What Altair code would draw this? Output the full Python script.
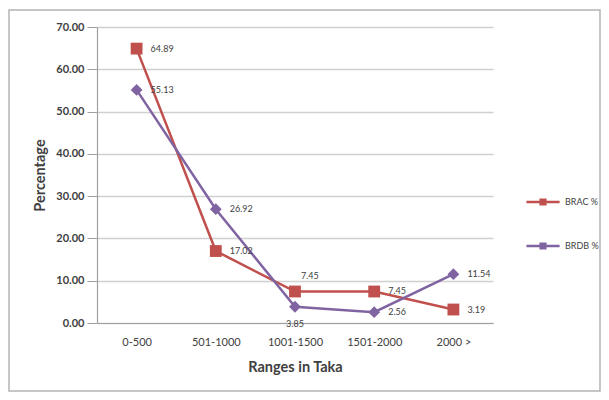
import altair as alt
import pandas as pd

categories = ["0-500", "501-1000", "1001-1500", "1501-2000", "2000 >"]
brac = [64.89, 17.02, 7.45, 7.45, 3.19]
brdb = [55.13, 26.92, 3.85, 2.56, 11.54]
series_names = ["BRAC %", "BRDB %"]
marker_names = ["BRAC marker", "BRDB marker"]
label_pos_brac = ["right", "right", "above", "right", "right"]
label_pos_brdb = ["right", "right", "below", "right", "right"]
y_ticks = [0, 10, 20, 30, 40, 50, 60, 70]

rows = []
for i, c in enumerate(categories):
    rows.append({"cat": c, "series": series_names[0], "marker": marker_names[0], "value": brac[i], "pos": label_pos_brac[i], "order": i})
    rows.append({"cat": c, "series": series_names[1], "marker": marker_names[1], "value": brdb[i], "pos": label_pos_brdb[i], "order": i})
df = pd.DataFrame(rows)

colors = ["#C0504D", "#8064A2"]
FONT = "Lato"

x_enc = alt.X("cat:N", sort=categories, scale=alt.Scale(paddingInner=0, paddingOuter=0.5),
              axis=alt.Axis(title="Ranges in Taka", labelAngle=0, labelFontSize=11, labelColor="#404040",
                            labelFont=FONT, labelPadding=13, titleFont=FONT, titleFontSize=14.5,
                            titleColor="#404040", titleFontWeight="bold", titlePadding=13, ticks=False,
                            domainColor="#A0A0A0", domainWidth=1.2, grid=False))
y_enc = alt.Y("value:Q", scale=alt.Scale(domain=[0, 70], nice=False),
              axis=alt.Axis(title="Percentage", values=y_ticks, format=".2f", labelFontSize=11,
                            labelFont=FONT, labelColor="#404040", labelFontWeight="bold", labelPadding=3,
                            titleFont=FONT, titleFontSize=14.5, titleColor="#404040", titleFontWeight="bold",
                            titlePadding=8, tickSize=10, tickColor="#A0A0A0", domainColor="#A0A0A0",
                            domainWidth=1.2, gridColor="#D0D0D0", gridWidth=1.5))

color_enc = alt.Color("series:N", scale=alt.Scale(domain=series_names, range=colors),
                      legend=alt.Legend(title=None, orient="none", legendX=428, legendY=157,
                                        symbolType="M-1,0H1M-0.14,-0.14H0.14V0.14H-0.14Z",
                                        symbolSize=1100, symbolStrokeWidth=2.5, labelFont=FONT,
                                        labelFontSize=9, labelColor="#404040", rowPadding=18,
                                        labelOffset=4))

base = alt.Chart(df)

frame = base.transform_filter("datum.order == 0 && datum.series == 'BRAC %'").mark_rect(
    fill="white", fillOpacity=0, stroke="#B4B4B4", strokeWidth=1.5,
    x=-88, x2=503, y=-17, y2=364).encode(opacity=alt.value(1))

lines = base.mark_line(strokeWidth=2.5).encode(x=x_enc, y=y_enc, color=color_enc, order="order:Q")
points = base.mark_point(filled=True, opacity=1, size=140, strokeWidth=0).encode(
    x=x_enc, y=y_enc,
    fill=alt.Fill("marker:N", scale=alt.Scale(domain=marker_names, range=colors), legend=None),
    shape=alt.Shape("marker:N", scale=alt.Scale(domain=marker_names, range=["square", "diamond"]), legend=None),
)

txt_common = dict(fontSize=9, font=FONT, color="#404040")
t_right = base.transform_filter("datum.pos == 'right'").mark_text(align="left", baseline="middle", dx=14, **txt_common).encode(
    x=x_enc, y=y_enc, text=alt.Text("value:Q", format=".2f"))
t_above = base.transform_filter("datum.pos == 'above'").mark_text(align="left", baseline="middle", dx=6, dy=-15, **txt_common).encode(
    x=x_enc, y=y_enc, text=alt.Text("value:Q", format=".2f"))
t_below = base.transform_filter("datum.pos == 'below'").mark_text(align="center", baseline="middle", dy=17, **txt_common).encode(
    x=x_enc, y=y_enc, text=alt.Text("value:Q", format=".2f"))

chart = alt.layer(frame, lines, points, t_right, t_above, t_below).properties(
    width=396, height=296,
    autosize=alt.AutoSizeParams(type="none"),
    padding={"left": 89, "top": 19, "right": 108, "bottom": 69},
    background="white",
).configure_view(stroke=None)

chart.save("out.html", embed_options={"renderer": "svg", "actions": False})
